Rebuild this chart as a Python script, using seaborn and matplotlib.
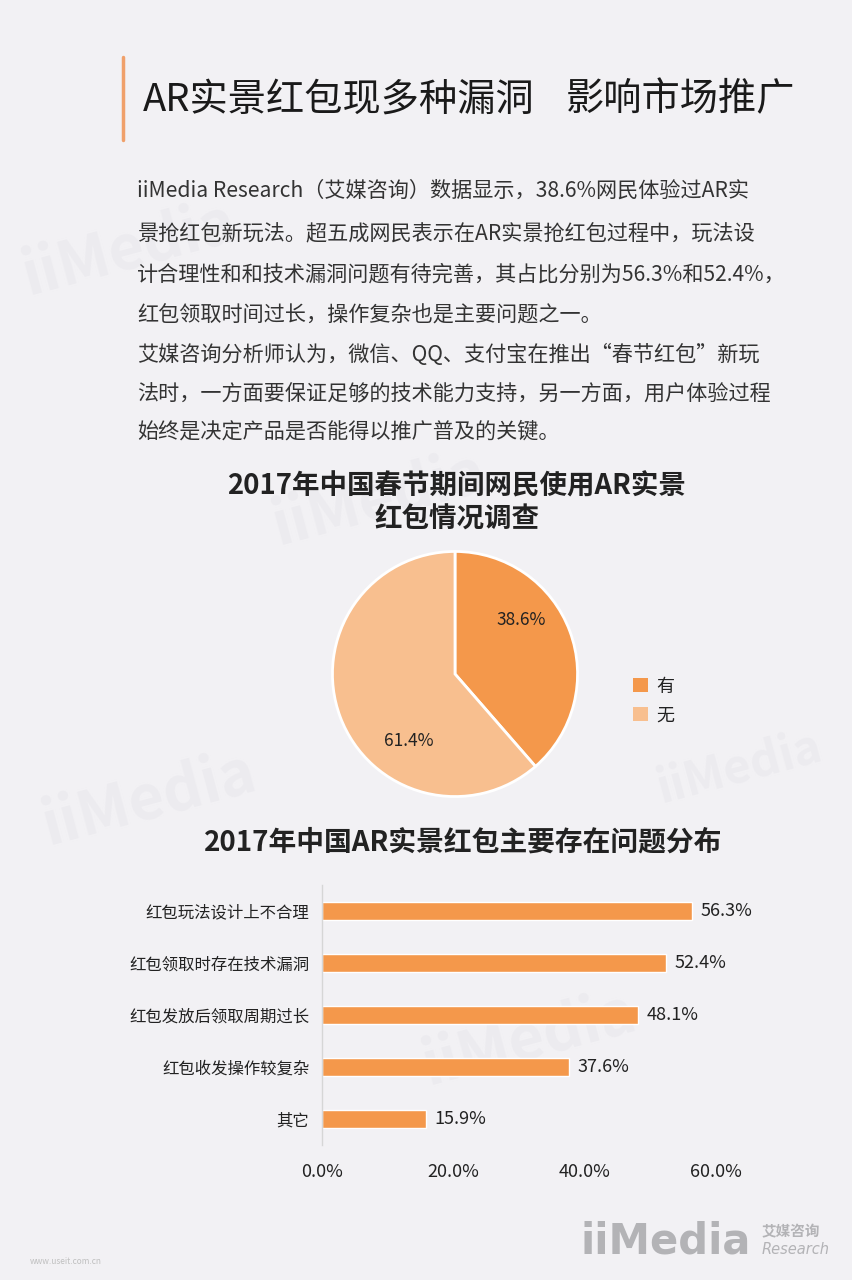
import matplotlib
matplotlib.use("Agg")
import matplotlib.pyplot as plt
import seaborn as sns
import pandas as pd
from matplotlib.patches import Patch

# data
pie_labels = ["有", "无"]
pie_values = [38.6, 61.4]

issues = ["红包玩法设计上不合理", "红包领取时存在技术漏洞", "红包发放后领取周期过长",
          "红包收发操作较复杂", "其它"]
issue_pct = [56.3, 52.4, 48.1, 37.6, 15.9]
x_ticks = [0, 20, 40, 60]

title_left = "AR实景红包现多种漏洞"
title_right = "影响市场推广"
paragraph = [
    "iiMedia Research（艾媒咨询）数据显示，38.6%网民体验过AR实",
    "景抢红包新玩法。超五成网民表示在AR实景抢红包过程中，玩法设",
    "计合理性和和技术漏洞问题有待完善，其占比分别为56.3%和52.4%，",
    "红包领取时间过长，操作复杂也是主要问题之一。",
    "艾媒咨询分析师认为，微信、QQ、支付宝在推出“春节红包”新玩",
    "法时，一方面要保证足够的技术能力支持，另一方面，用户体验过程",
    "始终是决定产品是否能得以推广普及的关键。",
]
pie_title = "2017年中国春节期间网民使用AR实景\n红包情况调查"
bar_title = "2017年中国AR实景红包主要存在问题分布"

BG = "#f2f1f4"
ORANGE = "#f4984b"
LIGHT = "#f8bf8f"
TXT = "#222222"

sns.set_style("white")
plt.rcParams['font.family'] = ['Noto Sans CJK SC', 'DejaVu Sans']

W, H = 853, 1280
fig = plt.figure(figsize=(W / 100, H / 100), dpi=100, facecolor=BG)

def fx(px):
    return px / W

def fy(py):
    return 1 - py / H

# faint watermarks, behind everything
for (x, y, s) in [(130, 250, 44), (150, 800, 44), (740, 768, 34), (530, 1040, 44), (380, 500, 44)]:
    fig.text(fx(x), fy(y), "iiMedia", fontsize=s, fontweight="bold", color="#ecebef",
             rotation=15, ha="center", va="center", zorder=-5)

# header
fig.add_artist(plt.Line2D([fx(123), fx(123)], [fy(57), fy(140)], color="#f0a06a", lw=2.5))
fig.text(fx(143), fy(100), title_left, fontsize=27.5, color="#1a1a1a", va="center", ha="left")
fig.text(fx(566), fy(100), title_right, fontsize=27.5, color="#1a1a1a", va="center", ha="left")

line_y = [191, 234, 275, 316, 355, 394, 432]
for yy, line in zip(line_y, paragraph):
    fig.text(fx(137), fy(yy), line, fontsize=15.2, color="#333333",
             va="center", ha="left")

# pie chart
fig.text(fx(457), fy(503), pie_title, fontsize=19.8, fontweight="bold", color=TXT,
         ha="center", va="center", linespacing=1.22)

ax1 = fig.add_axes([fx(330), fy(799), fx(250), 250 / H])
ax1.set_facecolor(BG)
wedges, texts = ax1.pie(pie_values, colors=[ORANGE, LIGHT], startangle=90, counterclock=False,
                        wedgeprops=dict(edgecolor="white", linewidth=2))
ax1.set_xlim(-1.02, 1.02)
ax1.set_ylim(-1.02, 1.02)
ax1.set_aspect("equal")
label_pos = [(0.54, 0.44), (-0.38, -0.55)]
for v, (px, py) in zip(pie_values, label_pos):
    ax1.text(px, py, f"{v:.1f}%", fontsize=12.5, color=TXT, ha="center", va="center")

handles = [Patch(facecolor=c, edgecolor="none") for c in [ORANGE, LIGHT]]
fig.legend(handles, pie_labels, loc="center left", bbox_to_anchor=(fx(617), fy(701)),
           frameon=False, fontsize=13, handlelength=0.8, handleheight=0.8,
           handletextpad=0.5, labelspacing=0.6, labelcolor=TXT)

# bar chart
fig.text(fx(463), fy(842), bar_title, fontsize=20, fontweight="bold", color=TXT,
         ha="center", va="center")

df = pd.DataFrame({"issue": issues, "pct": issue_pct})
ax2 = fig.add_axes([fx(322), fy(1145), fx(716) - fx(322), 260 / H])
ax2.set_facecolor("none")
sns.barplot(data=df, x="pct", y="issue", color=ORANGE, width=0.36, saturation=1, ax=ax2)
ax2.set_xlim(0, 60)
ax2.set_ylim(4.5, -0.5)
ax2.set_xticks(x_ticks)
ax2.set_xticklabels([f"{t:.1f}%" for t in x_ticks], fontsize=13, color=TXT)
ax2.tick_params(axis="x", length=0, pad=13)
ax2.tick_params(axis="y", length=0, pad=9, labelsize=11.8, labelcolor=TXT)
ax2.set_xlabel("")
ax2.set_ylabel("")
for s in ["top", "right", "bottom"]:
    ax2.spines[s].set_visible(False)
ax2.spines["left"].set_color("#d6d6d6")
ax2.spines["left"].set_linewidth(1)
ax2.bar_label(ax2.containers[0], labels=[f"{v:.1f}%" for v in issue_pct],
              padding=6, fontsize=13, color=TXT)

# footer logo
fig.text(fx(581), fy(1241), "iiMedia", fontsize=30, fontweight="bold", color="#b3b3b6",
         ha="left", va="center", family="DejaVu Sans")
fig.text(fx(762), fy(1231), "艾媒咨询", fontsize=10.5, fontweight="bold", color="#b3b3b6",
         ha="left", va="center")
fig.text(fx(762), fy(1249), "Research", fontsize=10.5, style="italic", color="#b3b3b6",
         ha="left", va="center", family="DejaVu Sans")
fig.text(fx(30), fy(1262), "www.useit.com.cn", fontsize=6, color="#c0c0c0", ha="left", va="center")

fig.savefig("out.png", dpi=100, facecolor=BG)
